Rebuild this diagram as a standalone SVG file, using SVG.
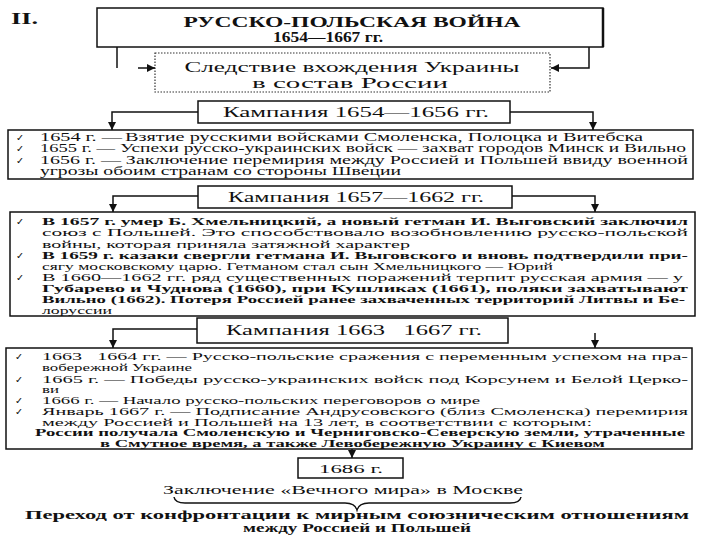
<svg xmlns="http://www.w3.org/2000/svg" width="720" height="540" viewBox="0 0 720 540">
<style>
text{font-family:"Liberation Serif","Times New Roman",serif;fill:#111}
.box{fill:#fff;stroke:#111;stroke-width:1.5}
.dot{fill:#fff;stroke:#333;stroke-width:1.2;stroke-dasharray:1.5 1.5}
.con{fill:none;stroke:#111;stroke-width:1.5}
.h{font-size:15px;text-anchor:middle}
.t{font-size:11.5px}
.t2{font-size:11px}
.t3{font-size:10.5px}
.b{font-weight:bold}
.ck{font-family:"DejaVu Sans",sans-serif;font-size:9.5px}
</style>
<defs>
<marker id="ah" viewBox="0 0 10 10" refX="10" refY="5" markerWidth="8" markerHeight="8" markerUnits="userSpaceOnUse" orient="auto">
<path d="M0,0 L10,5 L0,10 z" fill="#111"/>
</marker>
</defs>

<text x="11" y="24" font-size="16" font-weight="bold" textLength="27" lengthAdjust="spacingAndGlyphs">II.</text>

<g id="title">
<rect class="box" x="97" y="8" width="506" height="39"/>
<path d="M603,8 V47" stroke="#111" stroke-width="2.5"/>
<text class="b" x="352" y="27" font-size="15" text-anchor="middle" textLength="337" lengthAdjust="spacingAndGlyphs">РУССКО-ПОЛЬСКАЯ ВОЙНА</text>
<text class="b" x="328" y="42" font-size="14" text-anchor="middle" textLength="110" lengthAdjust="spacingAndGlyphs">1654—1667 гг.</text>
</g>

<g id="consequence">
<rect class="dot" x="155" y="53" width="395" height="39"/>
<text class="h" x="352" y="72" textLength="335" lengthAdjust="spacingAndGlyphs">Следствие вхождения Украины</text>
<text class="h" x="350" y="88" textLength="196" lengthAdjust="spacingAndGlyphs">в состав России</text>
</g>

<g id="camp1">
<rect class="box" x="198" y="101" width="312" height="22"/>
<text class="h" x="356" y="117" textLength="266" lengthAdjust="spacingAndGlyphs">Кампания 1654—1656 гг.</text>
</g>

<g id="list1">
<rect class="box" x="8" y="130" width="685" height="49"/>
<text class="ck" x="16" y="140.5">✓</text>
<text class="ck" x="16" y="152">✓</text>
<text class="ck" x="16" y="163.5">✓</text>
<text class="t" x="40" y="140.5" textLength="82" lengthAdjust="spacingAndGlyphs">1654 г. —</text>
<text class="t" x="125" y="140.5" textLength="518" lengthAdjust="spacingAndGlyphs">Взятие русскими войсками Смоленска, Полоцка и Витебска</text>
<text class="t" x="40" y="152" textLength="75" lengthAdjust="spacingAndGlyphs">1655 г. —</text>
<text class="t" x="120" y="152" textLength="566" lengthAdjust="spacingAndGlyphs">Успехи русско-украинских войск — захват городов Минск и Вильно</text>
<text class="t" x="40" y="163.5" textLength="648" lengthAdjust="spacingAndGlyphs">1656 г. — Заключение перемирия между Россией и Польшей ввиду военной</text>
<text class="t" x="40" y="175" textLength="361" lengthAdjust="spacingAndGlyphs">угрозы обоим странам со стороны Швеции</text>
</g>

<g id="camp2">
<rect class="box" x="198" y="186" width="314" height="22"/>
<text class="h" x="356" y="202" textLength="256" lengthAdjust="spacingAndGlyphs">Кампания 1657—1662 гг.</text>
</g>

<g id="list2">
<rect class="box" x="10" y="212" width="685" height="104"/>
<text class="ck" x="16" y="224.5">✓</text>
<text class="ck" x="16" y="258.5">✓</text>
<text class="ck" x="16" y="281">✓</text>
<text class="t2 b" x="42" y="224.5" textLength="646" lengthAdjust="spacingAndGlyphs">В 1657 г. умер Б. Хмельницкий, а новый гетман И. Выговский заключил</text>
<text class="t2" x="42" y="236" textLength="646" lengthAdjust="spacingAndGlyphs">союз с Польшей. Это способствовало возобновлению русско-польской</text>
<text class="t2" x="42" y="247.5" textLength="368" lengthAdjust="spacingAndGlyphs">войны, которая приняла затяжной характер</text>
<text class="t2 b" x="42" y="258.5" textLength="646" lengthAdjust="spacingAndGlyphs">В 1659 г. казаки свергли гетмана И. Выговского и вновь подтвердили при-</text>
<text class="t2" x="42" y="269.5" textLength="511" lengthAdjust="spacingAndGlyphs">сягу московскому царю. Гетманом стал сын Хмельницкого — Юрий</text>
<text class="t2" x="42" y="281" textLength="641" lengthAdjust="spacingAndGlyphs">В 1660—1662 гг. ряд существенных поражений терпит русская армия — у</text>
<text class="t2 b" x="42" y="292" textLength="646" lengthAdjust="spacingAndGlyphs">Губарево и Чуднова (1660), при Кушликах (1661), поляки захватывают</text>
<text class="t2 b" x="42" y="303" textLength="643" lengthAdjust="spacingAndGlyphs">Вильно (1662). Потеря Россией ранее захваченных территорий Литвы и Бе-</text>
<text class="t2" x="42" y="314" textLength="70" lengthAdjust="spacingAndGlyphs">лоруссии</text>
</g>

<g id="camp3">
<rect class="box" x="197" y="318" width="311" height="25"/>
<text class="h" x="354" y="335" textLength="256" lengthAdjust="spacingAndGlyphs">Кампания 1663&#160;&#160;&#160;1667 гг.</text>
</g>

<g id="list3">
<rect class="box" x="6" y="348" width="686" height="101"/>
<text class="ck" x="15" y="360">✓</text>
<text class="ck" x="15" y="382.5">✓</text>
<text class="ck" x="15" y="403.5">✓</text>
<text class="ck" x="15" y="414.5">✓</text>
<text class="t3" x="42" y="360" textLength="646" lengthAdjust="spacingAndGlyphs">1663&#160;&#160;&#160;1664 гг. — Русско-польские сражения с переменным успехом на пра-</text>
<text class="t3" x="42" y="371" textLength="150" lengthAdjust="spacingAndGlyphs">вобережной Украине</text>
<text class="t3" x="42" y="382.5" textLength="646" lengthAdjust="spacingAndGlyphs">1665 г. — Победы русско-украинских войск под Корсунем и Белой Церко-</text>
<text class="t3" x="42" y="393" textLength="17" lengthAdjust="spacingAndGlyphs">ви</text>
<text class="t3" x="42" y="403.5" textLength="438" lengthAdjust="spacingAndGlyphs">1666 г. — Начало русско-польских переговоров о мире</text>
<text class="t3" x="42" y="414.5" textLength="646" lengthAdjust="spacingAndGlyphs">Январь 1667 г. — Подписание Андрусовского (близ Смоленска) перемирия</text>
<text class="t3" x="42" y="425.5" textLength="550" lengthAdjust="spacingAndGlyphs">между Россией и Польшей на 13 лет, в соответствии с которым:</text>
<text class="t3 b" x="35" y="436" textLength="650" lengthAdjust="spacingAndGlyphs">России получала Смоленскую и Черниговско-Северскую земли, утраченные</text>
<text class="t3 b" x="100" y="446.5" textLength="505" lengthAdjust="spacingAndGlyphs">в Смутное время, а также Левобережную Украину с Киевом</text>
</g>

<g id="peace">
<rect class="box" x="298" y="458" width="105" height="20"/>
<text x="351" y="473" font-size="13" text-anchor="middle" textLength="64" lengthAdjust="spacingAndGlyphs">1686 г.</text>
<text x="343" y="494" font-size="12" text-anchor="middle" textLength="360" lengthAdjust="spacingAndGlyphs">Заключение «Вечного мира» в Москве</text>
<path d="M174,497 Q175,503 185,503 L345,503 Q355,503 357,510 Q359,503 369,503 L510,503 Q520,503 521,497" fill="none" stroke="#111" stroke-width="1.5"/>
<text class="b" x="357" y="519" font-size="12" text-anchor="middle" textLength="664" lengthAdjust="spacingAndGlyphs">Переход от конфронтации к мирным союзническим отношениям</text>
<text class="b" x="357" y="532" font-size="12" text-anchor="middle" textLength="228" lengthAdjust="spacingAndGlyphs">между Россией и Польшей</text>
</g>

<g id="connectors">
<path class="con" d="M117,47 V68"/>
<path class="con" d="M138,68 H155" marker-end="url(#ah)"/>
<path class="con" d="M589,47 V68 H551" marker-end="url(#ah)"/>
<path class="con" d="M198,112 H112 V130" marker-end="url(#ah)"/>
<path class="con" d="M510,112 H593 V130" marker-end="url(#ah)"/>
<path class="con" d="M198,196 H113 V212" marker-end="url(#ah)"/>
<path class="con" d="M512,196 H595 V212" marker-end="url(#ah)"/>
<path class="con" d="M197,329 H113 V348" marker-end="url(#ah)"/>
<path class="con" d="M595,333 V348" marker-end="url(#ah)"/>
<path class="con" d="M352,449 V458" marker-end="url(#ah)"/>
</g>
</svg>
